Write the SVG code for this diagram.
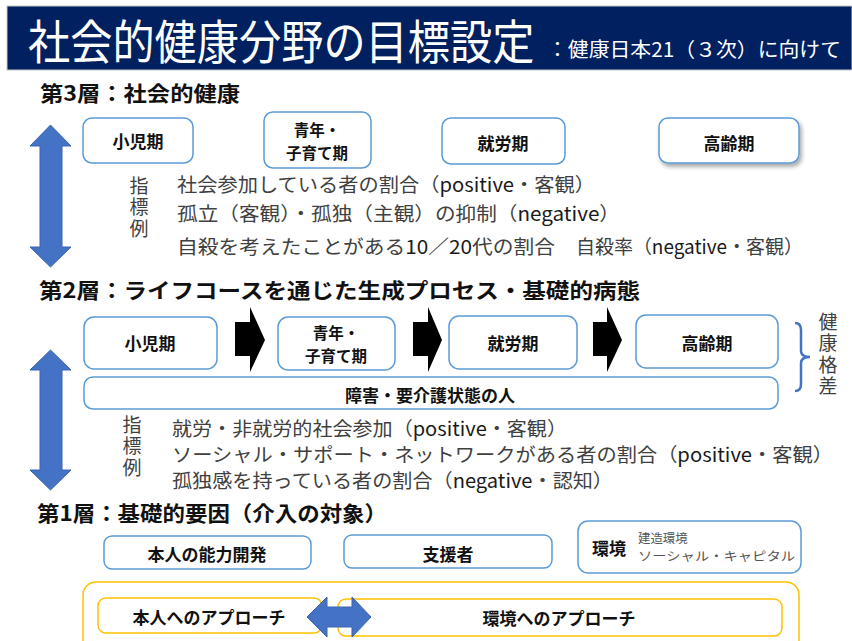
<svg xmlns="http://www.w3.org/2000/svg" width="852" height="641" viewBox="0 0 852 641">
<defs>
<style>
text{font-family:"Noto Sans CJK JP","Noto Sans",sans-serif;}
.box{fill:#fff;stroke:#5B9BD5;stroke-width:1.5;}
.ybox{fill:#fff;stroke:#FFC000;stroke-width:1.5;}
.lbl{font-size:17px;font-weight:bold;fill:#111;text-anchor:middle;dominant-baseline:central;}
.lbl2{font-size:15.5px;font-weight:bold;fill:#111;text-anchor:middle;dominant-baseline:central;}
.head{font-size:21px;font-weight:bold;fill:#111;dominant-baseline:central;}
.ind{font-size:19px;fill:#404040;dominant-baseline:central;}
.lat{fill:#1a1a1a;}
.vt{font-size:19px;fill:#404040;writing-mode:vertical-rl;letter-spacing:2.5px;}
.blue{fill:#4472C4;stroke:#3A64B0;stroke-width:1;}
.blk{fill:#000;}
</style>
<filter id="sh" x="-10%" y="-10%" width="130%" height="140%">
<feDropShadow dx="2" dy="3" stdDeviation="2" flood-color="#000" flood-opacity="0.35"/>
</filter>
</defs>
<rect width="852" height="641" fill="#fff"/>

<g id="title">
<rect x="7" y="6" width="845" height="64" fill="#002060" stroke="#c8c8c8" stroke-width="1"/>
<text transform="translate(28,39) scale(1,1.11)" x="0" y="0" font-size="42.2" fill="#fff" dominant-baseline="central">社会的健康分野の目標設定</text>
<text x="547" y="48" font-size="20" fill="#fff" dominant-baseline="central" textLength="294" lengthAdjust="spacingAndGlyphs">：健康日本21（３次）に向けて</text>
</g>

<g id="layer3">
<text class="head" x="40" y="92" textLength="200" lengthAdjust="spacingAndGlyphs">第3層：社会的健康</text>
<g id="l3-child"><rect class="box" x="83" y="118" width="110" height="45" rx="9"/><text class="lbl" x="138" y="140">小児期</text></g>
<g id="l3-youth"><rect class="box" x="264" y="112" width="107" height="56" rx="9"/><text class="lbl2" x="317" y="129">青年・</text><text class="lbl2" x="317" y="152">子育て期</text></g>
<g id="l3-work"><rect class="box" x="442" y="118" width="123" height="46" rx="9"/><text class="lbl" x="503" y="142">就労期</text></g>
<g id="l3-old"><rect class="box" x="659" y="118" width="140" height="45" rx="9" filter="url(#sh)"/><text class="lbl" x="729" y="142">高齢期</text></g>
<g id="l3-arrow"><polygon class="blue" points="50.5,125 71,146 62,146 62,247 71,247 50.5,267 30,247 40,247 40,146 30,146"/></g>
<g id="l3-ind">
<text class="vt" x="139" y="176">指標例</text>
<text class="ind" x="177" y="183" textLength="418" lengthAdjust="spacingAndGlyphs">社会参加している者の割合（<tspan class="lat">positive</tspan>・客観）</text>
<text class="ind" x="177" y="212" textLength="443" lengthAdjust="spacingAndGlyphs">孤立（客観）・孤独（主観）の抑制（<tspan class="lat">negative</tspan>）</text>
<text class="ind" x="177" y="245" textLength="378" lengthAdjust="spacingAndGlyphs">自殺を考えたことがある<tspan class="lat">10</tspan>／<tspan class="lat">20</tspan>代の割合</text>
<text class="ind" x="576" y="245" textLength="227" lengthAdjust="spacingAndGlyphs">自殺率（<tspan class="lat">negative</tspan>・客観）</text>
</g>
</g>

<g id="layer2">
<text class="head" x="39" y="289" textLength="601" lengthAdjust="spacingAndGlyphs">第2層：ライフコースを通じた生成プロセス・基礎的病態</text>
<g id="l2-child"><rect class="box" x="84" y="317" width="133" height="52" rx="10"/><text class="lbl" x="150" y="342">小児期</text></g>
<g id="l2-youth"><rect class="box" x="278" y="317" width="117" height="53" rx="10"/><text class="lbl2" x="336" y="332">青年・</text><text class="lbl2" x="336" y="355">子育て期</text></g>
<g id="l2-work"><rect class="box" x="449" y="316" width="128" height="53" rx="10"/><text class="lbl" x="513" y="342">就労期</text></g>
<g id="l2-old"><rect class="box" x="636" y="315" width="142" height="53" rx="10"/><text class="lbl" x="707" y="342">高齢期</text></g>
<g id="l2-disab"><rect class="box" x="84" y="377" width="694" height="32" rx="9"/><text class="lbl" x="430" y="394" font-size="18">障害・要介護状態の人</text></g>
<g id="connectors">
<polygon class="blk" points="235,322 250,322 250,307 265,340 250,372 250,356 235,356"/>
<polygon class="blk" points="413,322 428,322 428,307 442,340 428,372 428,356 413,356"/>
<polygon class="blk" points="593,322 607,322 607,307 622,340 607,372 607,356 593,356"/>
</g>
<g id="brace"><path d="M795,323 Q801,323 801,330 L801,351 Q801,357 810,357 Q801,357 801,363 L801,384 Q801,391 795,391" fill="none" stroke="#4472C4" stroke-width="2.5"/></g>
<g id="gap">
<text class="vt" x="828" y="312" font-size="20" letter-spacing="1.3">健康格差</text>
</g>
<g id="l2-arrow"><polygon class="blue" points="50.5,350 71,370 62,370 62,470 71,470 50.5,490 30,470 40,470 40,370 30,370"/></g>
<g id="l2-ind">
<text class="vt" x="132" y="415">指標例</text>
<text class="ind" x="172" y="427" textLength="395" lengthAdjust="spacingAndGlyphs">就労・非就労的社会参加（<tspan class="lat">positive</tspan>・客観）</text>
<text class="ind" x="172" y="453" textLength="661" lengthAdjust="spacingAndGlyphs">ソーシャル・サポート・ネットワークがある者の割合（<tspan class="lat">positive</tspan>・客観）</text>
<text class="ind" x="172" y="479" textLength="441" lengthAdjust="spacingAndGlyphs">孤独感を持っている者の割合（<tspan class="lat">negative</tspan>・認知）</text>
</g>
</g>

<g id="layer1">
<text class="head" x="37" y="512" textLength="350" lengthAdjust="spacingAndGlyphs">第1層：基礎的要因（介入の対象）</text>
<g id="l1-self"><rect class="box" x="104" y="536" width="207" height="33" rx="8"/><text class="lbl" x="207" y="553" font-size="18">本人の能力開発</text></g>
<g id="l1-support"><rect class="box" x="344" y="535" width="208" height="33" rx="8"/><text class="lbl" x="448" y="553" font-size="18">支援者</text></g>
<g id="l1-env"><rect class="box" x="578" y="521" width="223" height="52" rx="10"/>
<text class="lbl" x="609" y="547" font-size="18">環境</text>
<text x="638" y="538" font-size="12.4" fill="#555" dominant-baseline="central">建造環境</text>
<text x="638" y="556" font-size="12.4" fill="#555" dominant-baseline="central" textLength="157" lengthAdjust="spacingAndGlyphs">ソーシャル・キャピタル</text>
</g>
<g id="l1-approach">
<rect class="ybox" x="83" y="582" width="716" height="80" rx="13"/>
<g id="l1-selfap"><rect class="ybox" x="98" y="598" width="224" height="35" rx="8"/><text class="lbl" x="209" y="616" font-size="18">本人へのアプローチ</text></g>
<g id="l1-envap"><rect class="ybox" x="338" y="599" width="444" height="37" rx="8"/><text class="lbl" x="559" y="617" font-size="18">環境へのアプローチ</text></g>
<polygon class="blue" points="307,617 327,597 327,607 352,607 352,597 371,617 352,637 352,627 327,627 327,637"/>
</g>
</g>
</svg>
